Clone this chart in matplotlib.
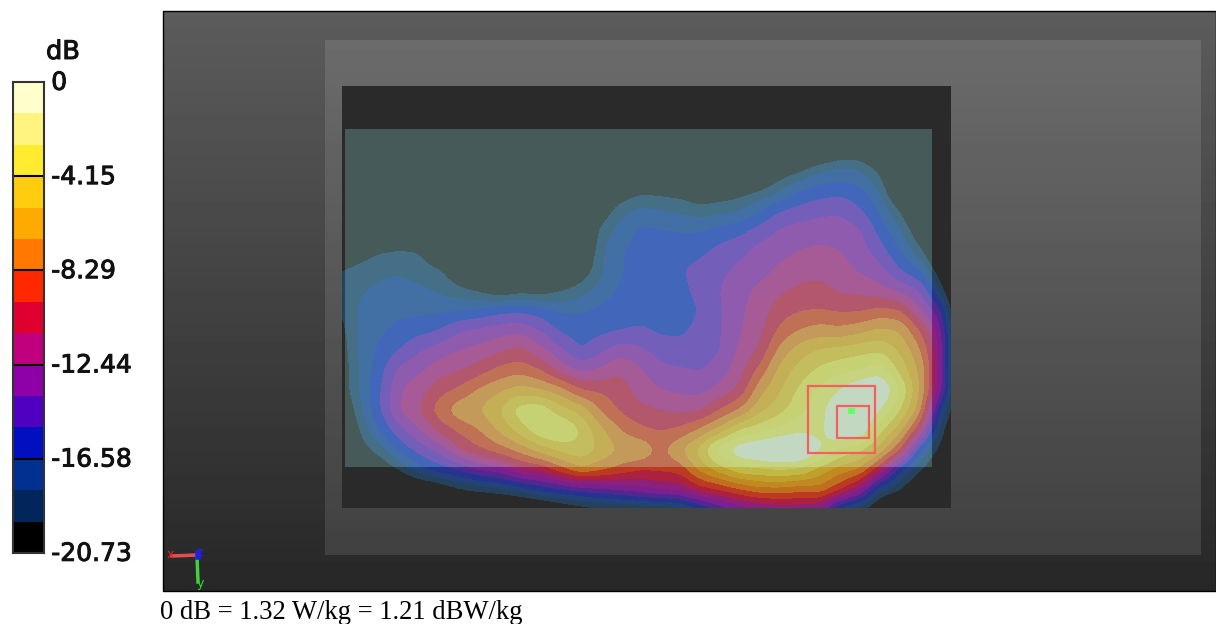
# SAR surface scan
import numpy as np
import matplotlib
matplotlib.use("Agg")
import matplotlib.pyplot as plt
import matplotlib.patheffects as pe
from matplotlib.patches import Rectangle

W, H = 1216, 624

# colour scale, bottom to top
db_floor = -20.73
db_step = 1.382
bar_colors = ["#000000", "#00265C", "#003090", "#0010C0", "#5000C0", "#9000A8", "#C0007E", "#E00030",
              "#FF2800", "#FF7800", "#FFAA00", "#FFCC10", "#FFEC30", "#FFF480", "#FFFFCC"]
tick_values = [0, -4.15, -8.29, -12.44, -16.58, -20.73]
tick_labels = ["0", "-4.15", "-8.29", "-12.44", "-16.58", "-20.73"]

# band colours as they look on the teal plate and on the dark plate (band 1 upward)
on_plate = ["#456E87", "#4270A5", "#4267BA", "#735FB9", "#8F5BAF", "#A65B96", "#B3586C",
            "#BF7055", "#C49A5A", "#C4AE56", "#C4BD5D", "#C5D172", "#C6D47F", "#C3D8C0"]
off_plate = ["#26425A", "#234378", "#24348F", "#4F2890", "#7A2090", "#8E2078", "#AC2040",
             "#BC3A20", "#C06E20", "#C08A20", "#C0A02C", "#C2B848", "#C4C460", "#C4CCA0"]

# field in colour steps above the floor, one list per column
grid_x = np.arange(340, 961, 20)
grid_y = np.arange(150, 511, 20)
field_columns = [
    [-3, -3, -3, -3, -2, -.5, 1, 1.1, .9, .5, .2, 0, 0, -1, -2, -3, -3, -3, -3],
    [-3, -3, -3, -2.5, -1, .3, 1.3, 1.9, 2.2, 2.2, 2.2, 2.1, 2.1, 1.8, 1.1, .3, -1, -2, -3],
    [-3, -3, -3, -2, -.8, .8, 1.8, 2.2, 2.4, 2.8, 3.2, 3.6, 3.9, 3.9, 3, 1.5, -.3, -2, -3],
    [-3, -3, -3, -2, -.7, 1, 1.9, 2.3, 2.7, 3.3, 4, 5.3, 5.9, 6.1, 4.7, 3.2, 1, -1.5, -3],
    [-3, -3, -3, -2.5, -1, .9, 1.5, 2.2, 2.7, 3.6, 4.9, 5.8, 6.6, 7, 5.9, 4.4, 2.6, -1, -3],
    [-3, -3, -3, -3, -2, -.8, 1.1, 1.8, 2.7, 4, 5.5, 6.6, 7.6, 8.6, 7.3, 5.3, 3.4, -.3, -3],
    [-3, -3, -3, -3, -3, -1.5, -.3, 1.2, 2.9, 4.9, 6, 6.9, 8.2, 9.7, 8.2, 7, 4, .8, -2],
    [-3, -3, -3, -3, -3, -3, -1.5, .7, 3.1, 5.2, 6.3, 7.5, 9.2, 10, 9, 7.8, 5, 1.2, -2],
    [-3, -3, -3, -3, -3, -3, -2, -.2, 3.6, 5.5, 6.8, 8.3, 9.8, 11, 10.2, 8.5, 5.4, 1.6, -2],
    [-3, -3, -3, -3, -3, -3, -2, .4, 3.7, 5.7, 7.3, 8.6, 10.4, 12.6, 11.4, 9.3, 6.7, 2.3, -2],
    [-3, -3, -3, -3, -3, -3, -2, .2, 3.4, 4.9, 6.3, 8, 10, 12.8, 12.8, 10.4, 7, 3.2, -1.5],
    [-3, -3, -3, -3, -3, -2.5, -1.5, .8, 2.8, 3.8, 5.2, 6.6, 9.4, 11.4, 13.2, 11.2, 8.4, 3.6, -.5],
    [-3, -3, -3, -3, -2.5, -1.5, -.2, 1.5, 2.8, 3.5, 3.9, 5.7, 8, 10.7, 12, 11.8, 9.7, 4.2, 0],
    [-3, -3, -1.5, -.2, 1.3, 1.7, 1.8, 2.3, 3.2, 3.7, 4.7, 6.1, 7.8, 8.9, 10.3, 10.8, 9.2, 4.6, .5],
    [-3, -1.5, -.2, 1.6, 2.3, 2.9, 2.9, 3.1, 3.5, 3.9, 5.5, 6.9, 7.4, 7.8, 9, 9.9, 8.6, 5, .5],
    [-3, -1, .6, 2.2, 3.2, 3.3, 3.4, 3.5, 3.7, 4.1, 5.2, 6.1, 6.6, 7.2, 8.2, 9.9, 8, 5.5, .7],
    [-3, -1, .5, 2, 3.1, 3.3, 3.4, 3.5, 3.6, 3.8, 4.5, 5.3, 6, 7, 7.9, 8.7, 8.2, 6, .8],
    [-3, -1.3, .3, 1.8, 2.9, 3.6, 3.9, 3.8, 3.7, 3.8, 4.3, 5.1, 5.8, 6.7, 8.2, 9.9, 8.3, 6.2, 1],
    [-3, -1.8, -.1, 1.3, 2.9, 3.7, 4.3, 4.2, 4, 4.2, 4.6, 4.9, 5.6, 6.8, 9.1, 11.4, 10.2, 7.4, 2.5],
    [-3, -1.5, 0, 1.6, 3.3, 4.3, 4.7, 5, 4.9, 4.9, 4.9, 5.4, 6.3, 8, 10.3, 13.8, 11.4, 8, 4],
    [-3, -1.8, .3, 1.9, 3.7, 4.6, 5.3, 5.7, 5.8, 5.9, 6.2, 6.6, 7.2, 9, 12, 14.8, 12.6, 8.8, 5],
    [-3, -1.2, .8, 2.9, 4.3, 5.4, 5.6, 6.2, 6.5, 6.7, 7.1, 8.3, 9.6, 10.7, 12.6, 15.2, 12.8, 9.5, 5.5],
    [-2, 0, 1.8, 3.9, 5.1, 5.6, 6.2, 6.8, 7.5, 8.2, 9.3, 10.3, 10.9, 11.6, 13.2, 15.6, 13, 9.5, 6],
    [-2, .7, 3, 4.3, 5.4, 6, 6.6, 7.2, 7.9, 9, 10.5, 11.4, 12.2, 12.7, 13.8, 15.4, 12.8, 9.2, 6],
    [-1.3, 1.8, 3.4, 4.7, 5.5, 6.2, 6.7, 7.3, 8, 9.4, 11.1, 12.2, 13.2, 13.6, 13.6, 14.2, 11.5, 9.5, 5.5],
    [-.2, 2.2, 3.6, 4.8, 5.5, 6, 6.4, 6.8, 7.8, 9.2, 11.3, 12.7, 14, 15, 15.2, 12.7, 10.4, 8, 2],
    [-.2, 2, 3.2, 4.1, 5.1, 5.4, 5.8, 6.7, 7.8, 9.6, 11.6, 12.9, 15, 15.5, 15, 12.2, 9.8, 6, 1],
    [-2, .7, 1.9, 2.8, 3.6, 4.4, 5.3, 6.3, 8.2, 10.2, 11.8, 13.6, 15.3, 14, 12.2, 10.5, 7, 2, -1],
    [-3, -3, -1.5, .8, 2.1, 2.9, 4, 5.6, 8, 9.9, 10.8, 11.6, 13, 12, 10.4, 8, 3, 1, -2],
    [-3, -3, -3, -1.5, -.3, 1.2, 2.9, 5, 5.9, 7.9, 9.1, 9.8, 9.9, 9.4, 7, 3, 1.1, -1, -3],
    [-3, -3, -3, -3, -3, -1.5, 0, 1.8, 4.4, 5.4, 5.8, 5.8, 5.4, 3, 1.5, .5, -1, -3, -3],
    [-3, -3, -3, -3, -3, -3, -3, -3, -2, -1.5, -1.2, -1.2, -1, -1, -1.5, -2, -3, -3, -3],
]


def refine(z, x, y, n=5):
    # finer grid plus a small blur, so the contour edges come out round
    fx = np.linspace(x[0], x[-1], (len(x) - 1) * n + 1)
    fy = np.linspace(y[0], y[-1], (len(y) - 1) * n + 1)
    a = np.array([np.interp(fy, y, col) for col in z.T]).T
    b = np.array([np.interp(fx, x, row) for row in a])
    k = np.array([1, 2, 3, 2, 1], float)
    k /= k.sum()
    b = np.apply_along_axis(lambda v: np.convolve(np.pad(v, 2, mode="edge"), k, mode="valid"), 0, b)
    b = np.apply_along_axis(lambda v: np.convolve(np.pad(v, 2, mode="edge"), k, mode="valid"), 1, b)
    return fx, fy, b


fig = plt.figure(figsize=(W / 100, H / 100), dpi=100)

# whole picture in pixel coordinates
ax = fig.add_axes([0, 0, 1, 1])
ax.axis("off")

shade = np.linspace(0.36, 0.155, 100).reshape(-1, 1)
ax.imshow(shade, extent=(163, 1216, 591, 11), cmap="gray", vmin=0, vmax=1, aspect="auto", zorder=1)
shade2 = np.linspace(0.42, 0.255, 100).reshape(-1, 1)
ax.imshow(shade2, extent=(325, 1201, 555, 40), cmap="gray", vmin=0, vmax=1, aspect="auto", zorder=2)
ax.add_patch(Rectangle((163, 11), 1053, 580, fill=False, ec="black", lw=1, zorder=9))

dark = Rectangle((342, 86), 609, 422, fc="#2A2A2A", ec="none", zorder=3)
plate = Rectangle((345, 129), 587, 338, fc="#475A5A", ec="none", zorder=5)
ax.add_patch(dark)
ax.add_patch(plate)

fx, fy, steps = refine(np.array(field_columns, float).T, grid_x, grid_y)
levels = np.arange(1, 16)
cs1 = ax.contourf(fx, fy, steps, levels=levels, colors=off_plate, extend="max", zorder=4)
cs1.set_clip_path(dark)
cs2 = ax.contourf(fx, fy, steps, levels=levels, colors=on_plate, extend="max", zorder=6)
cs2.set_clip_path(plate)

# measurement boxes
for x0, y0, s in [(807.5, 386, 67), (836.5, 406, 32)]:
    ax.add_patch(Rectangle((x0, y0), s, s, fill=False, ec="#F26060", lw=1.6, zorder=7))
ax.add_patch(Rectangle((848, 408), 7, 6, fc="#66FF66", ec="none", zorder=7))

# axis triad
ax.plot([172, 197], [556, 555], color="#E05050", lw=2.5, zorder=7)
ax.plot([197, 198], [556, 582], color="#40D040", lw=2.5, zorder=7)
ax.plot([198, 198], [553, 557], color="#2020E0", lw=4, zorder=8)
ax.text(170, 554, "x", color="#E02020", fontsize=9, ha="center", va="center", zorder=8)
ax.text(200, 584, "y", color="#30E030", fontsize=9, ha="center", va="center", zorder=8)
ax.text(200, 553, "z", color="#2020F0", fontsize=9, ha="center", va="center", zorder=8)

ax.set_xlim(0, W)
ax.set_ylim(H, 0)

ax.text(160, 619, "0 dB = 1.32 W/kg = 1.21 dBW/kg", family="Liberation Serif", fontsize=19.2, color="black",
        ha="left", va="baseline")
ax.text(63, 52, "dB", fontsize=18.5, color="#111111", ha="center", va="center",
        path_effects=[pe.withStroke(linewidth=0.7, foreground="#111111")])

# colour bar
cax = fig.add_axes([13 / W, 1 - 553 / H, 31 / W, 471 / H])
for i, c in enumerate(bar_colors):
    cax.bar(0, db_step, bottom=db_floor + i * db_step, width=1, color=c, edgecolor="none")
cax.hlines(tick_values[1:-1], -0.5, 0.5, color="black", lw=1.5)
cax.set_xlim(-0.5, 0.5)
cax.set_ylim(db_floor, 0)
cax.set_xticks([])
cax.set_yticks([])
for v, lab in zip(tick_values, tick_labels):
    cax.annotate(lab, (0.5, v), xytext=(5.2, -0.6), textcoords="offset points", annotation_clip=False,
                 fontsize=18, color="#111111", va="center", ha="left",
                 path_effects=[pe.withStroke(linewidth=0.7, foreground="#111111")])
for s in cax.spines.values():
    s.set_color("#333333")
    s.set_linewidth(1.5)

fig.savefig("out.png", dpi=100)
